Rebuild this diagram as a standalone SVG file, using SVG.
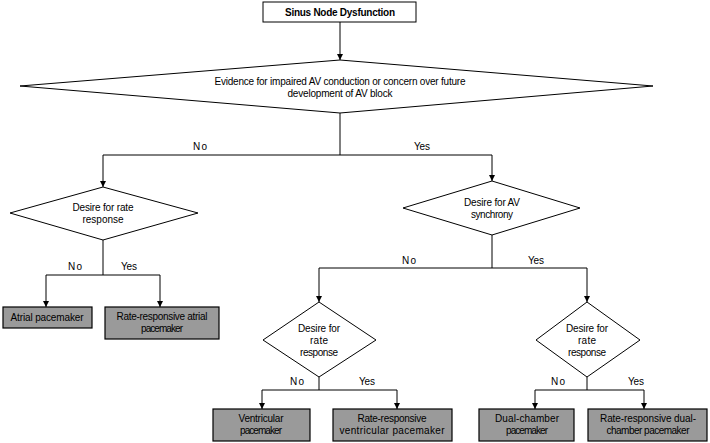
<svg xmlns="http://www.w3.org/2000/svg" width="710" height="443" viewBox="0 0 710 443">
<defs>
<marker id="ah" markerWidth="8" markerHeight="8" refX="6" refY="3" orient="auto" markerUnits="userSpaceOnUse"><path d="M0,0 L6,3 L0,6 z" fill="#000"/></marker>
<style>
.s{fill:#fff;stroke:#000;stroke-width:1}
.b{fill:#9a9a9a;stroke:#000;stroke-width:1.2}
.l{fill:none;stroke:#000;stroke-width:1}
.a{fill:none;stroke:#000;stroke-width:1;marker-end:url(#ah)}
text{font-family:"Liberation Sans",Arial,sans-serif;font-size:10px;fill:#000;text-anchor:middle}
</style>
</defs>
<rect width="710" height="443" fill="#fff"/>
<g id="connectors">
<path class="a" d="M340,22 V60"/>
<path class="l" d="M340,113 V155 M103,155 H492"/>
<path class="a" d="M103,155 V187"/><path class="a" d="M492,155 V181"/>
<path class="l" d="M103,240 V275 M46,275 H160"/>
<path class="a" d="M46,275 V307"/><path class="a" d="M160,275 V307"/>
<path class="l" d="M492,235 V268 M319,268 H587"/>
<path class="a" d="M319,268 V302"/><path class="a" d="M587,268 V302"/>
<path class="l" d="M319,377 V390 M262,390 H397"/>
<path class="a" d="M262,390 V409"/><path class="a" d="M397,390 V409"/>
<path class="l" d="M587,377 V390 M535,390 H644"/>
<path class="a" d="M535,390 V409"/><path class="a" d="M644,390 V409"/>
<text x="200" y="150" textLength="14">No</text><text x="422" y="150" textLength="16">Yes</text>
<text x="75" y="270" textLength="14">No</text><text x="129" y="270" textLength="16">Yes</text>
<text x="409" y="264" textLength="14">No</text><text x="536" y="264" textLength="16">Yes</text>
<text x="297" y="385" textLength="14">No</text><text x="367" y="385" textLength="16">Yes</text>
<text x="558" y="385" textLength="14">No</text><text x="636" y="385" textLength="16">Yes</text>
</g>
<g id="start"><rect class="s" x="263" y="2" width="153" height="20"/><text x="340" y="16" font-weight="bold" textLength="110">Sinus Node Dysfunction</text></g>
<g id="d-av"><polygon class="s" points="340,60 653,86 340,113 20,86"/>
<text x="340" y="85" textLength="251">Evidence for impaired AV conduction or concern over future</text>
<text x="340" y="97" textLength="105">development of AV block</text></g>
<g id="d-rate1"><polygon class="s" points="103,187 198,213 103,240 10,213"/>
<text x="103" y="211" textLength="61">Desire for rate</text><text x="103" y="223" textLength="41">response</text></g>
<g id="d-sync"><polygon class="s" points="492,181 580,208 492,235 403,208"/>
<text x="492" y="206" textLength="56">Desire for AV</text><text x="492" y="218" textLength="42">synchrony</text></g>
<g id="d-rate2"><polygon class="s" points="319,302 376,340 319,377 263,340"/>
<text x="319" y="332" textLength="42">Desire for</text><text x="319" y="344" textLength="18">rate</text><text x="319" y="356" textLength="38">response</text></g>
<g id="d-rate3"><polygon class="s" points="587,302 640,340 587,377 536,340"/>
<text x="587" y="332" textLength="42">Desire for</text><text x="587" y="344" textLength="18">rate</text><text x="587" y="356" textLength="38">response</text></g>
<g id="atrial"><rect class="b" x="3" y="307" width="89" height="21"/><text x="47" y="321" textLength="73">Atrial pacemaker</text></g>
<g id="rr-atrial"><rect class="b" x="105" y="307" width="114" height="32"/><text x="162" y="320" textLength="91">Rate-responsive atrial</text><text x="162" y="332" textLength="42">pacemaker</text></g>
<g id="ventricular"><rect class="b" x="213" y="409" width="97" height="32"/><text x="261" y="422" textLength="45">Ventricular</text><text x="261" y="434" textLength="42">pacemaker</text></g>
<g id="rr-ventricular"><rect class="b" x="333" y="409" width="119" height="32"/><text x="392" y="422" textLength="69">Rate-responsive</text><text x="392" y="434" textLength="105">ventricular pacemaker</text></g>
<g id="dual"><rect class="b" x="479" y="409" width="95" height="32"/><text x="527" y="422" textLength="64">Dual-chamber</text><text x="527" y="434" textLength="42">pacemaker</text></g>
<g id="rr-dual"><rect class="b" x="588" y="409" width="119" height="32"/><text x="648" y="422" textLength="96">Rate-responsive dual-</text><text x="648" y="434" textLength="83">chamber pacemaker</text></g>
</svg>
